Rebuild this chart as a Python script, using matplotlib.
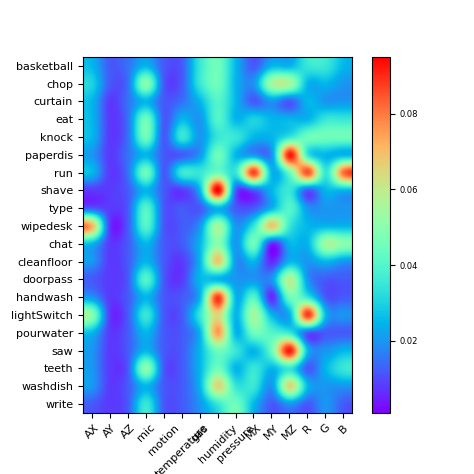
import numpy as np
import matplotlib
matplotlib.use("Agg")
import matplotlib.pyplot as plt

rows = ["basketball","chop","curtain","eat","knock","paperdis","run","shave","type","wipedesk",
        "chat","cleanfloor","doorpass","handwash","lightSwitch","pourwater","saw","teeth","washdish","write"]
cols = ["AX","AY","AZ","mic","motion","temperature","gas","humidity","pressure","MX","MY","MZ","R","G","B"]

basketball = [0.025,0.012,0.015,0.025,0.012,0.012,0.035,0.045,0.025,0.012,0.025,0.025,0.035,0.035,0.025]
chop       = [0.03,0.012,0.015,0.05,0.012,0.012,0.035,0.045,0.025,0.02,0.055,0.055,0.025,0.025,0.02]
curtain    = [0.025,0.008,0.015,0.025,0.012,0.015,0.025,0.04,0.025,0.012,0.02,0.012,0.025,0.02,0.02]
eat        = [0.025,0.008,0.015,0.045,0.012,0.025,0.02,0.04,0.025,0.03,0.025,0.025,0.025,0.035,0.035]
knock      = [0.025,0.008,0.015,0.045,0.012,0.035,0.02,0.035,0.035,0.025,0.025,0.035,0.045,0.045,0.045]
paperdis   = [0.02,0.008,0.015,0.025,0.012,0.012,0.02,0.045,0.025,0.02,0.02,0.092,0.035,0.025,0.025]
run        = [0.025,0.008,0.015,0.045,0.012,0.035,0.035,0.045,0.035,0.087,0.025,0.045,0.085,0.035,0.082]
shave      = [0.008,0.008,0.012,0.025,0.012,0.008,0.025,0.095,0.012,0.012,0.025,0.035,0.012,0.025,0.025]
type_      = [0.012,0.008,0.012,0.04,0.012,0.012,0.012,0.025,0.012,0.012,0.025,0.04,0.02,0.02,0.02]
wipedesk   = [0.072,0.008,0.012,0.04,0.012,0.012,0.02,0.055,0.02,0.035,0.068,0.035,0.025,0.025,0.025]
chat       = [0.025,0.008,0.012,0.025,0.012,0.012,0.025,0.05,0.02,0.045,0.006,0.025,0.025,0.055,0.05]
cleanfloor = [0.02,0.008,0.012,0.025,0.012,0.008,0.025,0.068,0.02,0.025,0.006,0.025,0.02,0.025,0.02]
doorpass   = [0.012,0.008,0.012,0.04,0.012,0.008,0.025,0.025,0.02,0.02,0.02,0.058,0.02,0.012,0.012]
handwash   = [0.02,0.008,0.012,0.025,0.012,0.012,0.025,0.088,0.025,0.04,0.006,0.045,0.035,0.012,0.012]
lightSwitch= [0.05,0.008,0.012,0.035,0.012,0.012,0.035,0.065,0.025,0.055,0.025,0.025,0.088,0.025,0.02]
pourwater  = [0.025,0.008,0.012,0.025,0.012,0.012,0.025,0.075,0.025,0.045,0.04,0.035,0.012,0.012,0.012]
saw        = [0.02,0.008,0.012,0.025,0.012,0.012,0.025,0.045,0.035,0.025,0.045,0.092,0.025,0.02,0.025]
teeth      = [0.02,0.008,0.012,0.05,0.012,0.012,0.025,0.045,0.025,0.035,0.025,0.035,0.012,0.025,0.035]
washdish   = [0.02,0.008,0.012,0.025,0.012,0.012,0.025,0.065,0.035,0.035,0.02,0.065,0.025,0.02,0.02]
write      = [0.012,0.008,0.012,0.035,0.012,0.012,0.02,0.035,0.045,0.025,0.012,0.02,0.012,0.02,0.012]

data = np.array([basketball,chop,curtain,eat,knock,paperdis,run,shave,type_,wipedesk,
                 chat,cleanfloor,doorpass,handwash,lightSwitch,pourwater,saw,teeth,washdish,write])

fig = plt.figure(figsize=(4.74,4.74), dpi=100)
ax = fig.add_axes([0.175,0.129,0.568,0.751])
cax = fig.add_axes([0.785,0.129,0.038,0.751])
im = ax.imshow(data, cmap="rainbow", aspect="auto", interpolation="catrom",
               interpolation_stage="data", vmin=0.001, vmax=0.095)
ax.set_xticks(range(len(cols)))
ax.set_xticklabels(cols, rotation=45, fontsize=8)
ax.set_yticks(range(len(rows)))
ax.set_yticklabels(rows, fontsize=8)
cb = fig.colorbar(im, cax=cax)
cb.set_ticks([0.02,0.04,0.06,0.08])
cb.ax.tick_params(labelsize=6)
fig.savefig("out.png", dpi=100)
